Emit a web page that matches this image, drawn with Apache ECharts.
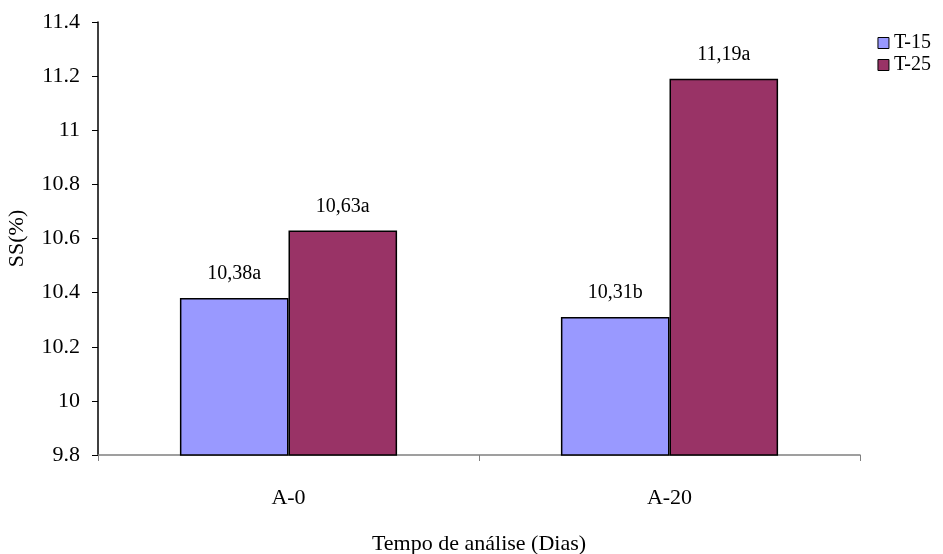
<!DOCTYPE html>
<html><head><meta charset="utf-8">
<script src="https://cdn.jsdelivr.net/npm/echarts@6/dist/echarts.min.js"></script>
<style>html,body{margin:0;padding:0;background:#fff}#c{width:943px;height:554px}</style>
</head><body><div id="c"></div>
<script>
const categories = ['A-0', 'A-20'];
const seriesNames = ['T-15', 'T-25'];
const t15 = [10.38, 10.31];
const t25 = [10.63, 11.19];
const t15Labels = ['10,38a', '10,31b'];
const t25Labels = ['10,63a', '11,19a'];
const yTicks = [9.8, 10, 10.2, 10.4, 10.6, 10.8, 11, 11.2, 11.4];

const font = 'Liberation Serif';
const chart = echarts.init(document.getElementById('c'));
function mkSeries(name, data, labels, color) {
  return {
    name, type: 'bar', data, barGap: '0%', barCategoryGap: '43%',
    itemStyle: { color, borderColor: '#000', borderWidth: 1.5 },
    label: { show: true, position: 'top', distance: 14, fontFamily: font, fontSize: 20, color: '#000',
      formatter: p => labels[p.dataIndex] },
    emphasis: { disabled: true }
  };
}
chart.setOption({
  animation: false,
  textStyle: { fontFamily: font },
  grid: { left: 98, right: 83, top: 22, bottom: 99, outerBoundsMode: 'none', containLabel: false },
  legend: {
    orient: 'vertical', right: 7, top: 28, itemWidth: 11, itemHeight: 11, itemGap: 2, icon: 'rect',
    textStyle: { fontFamily: font, fontSize: 20, color: '#000', lineHeight: 16 },
    data: seriesNames.map(n => ({ name: n, itemStyle: { borderColor: '#000', borderWidth: 1 } }))
  },
  xAxis: {
    type: 'category', data: categories,
    name: 'Tempo de análise (Dias)', nameLocation: 'middle', nameGap: 78,
    nameTextStyle: { fontFamily: font, fontSize: 22, color: '#000' },
    axisLine: { lineStyle: { color: '#808080', width: 1.5 } },
    axisTick: { show: true, length: 6, lineStyle: { color: '#808080' } },
    axisLabel: { fontFamily: font, fontSize: 22, color: '#000', margin: 32 }
  },
  yAxis: {
    type: 'value', min: 9.8, max: 11.4, interval: 0.2,
    name: 'SS(%)', nameLocation: 'middle', nameGap: 70, nameRotate: 90,
    nameTextStyle: { fontFamily: font, fontSize: 22, color: '#000' },
    axisLine: { show: true, lineStyle: { color: '#000', width: 1.5 } },
    axisTick: { show: true, length: 6, lineStyle: { color: '#000' } },
    splitLine: { show: false },
    axisLabel: { fontFamily: font, fontSize: 22, color: '#000', margin: 18,
      formatter: v => { const t = yTicks.find(x => Math.abs(x - v) < 1e-6); return t === undefined ? '' : String(t); } }
  },
  series: [
    mkSeries(seriesNames[0], t15, t15Labels, '#9999ff'),
    mkSeries(seriesNames[1], t25, t25Labels, '#993366')
  ]
});
</script></body></html>
